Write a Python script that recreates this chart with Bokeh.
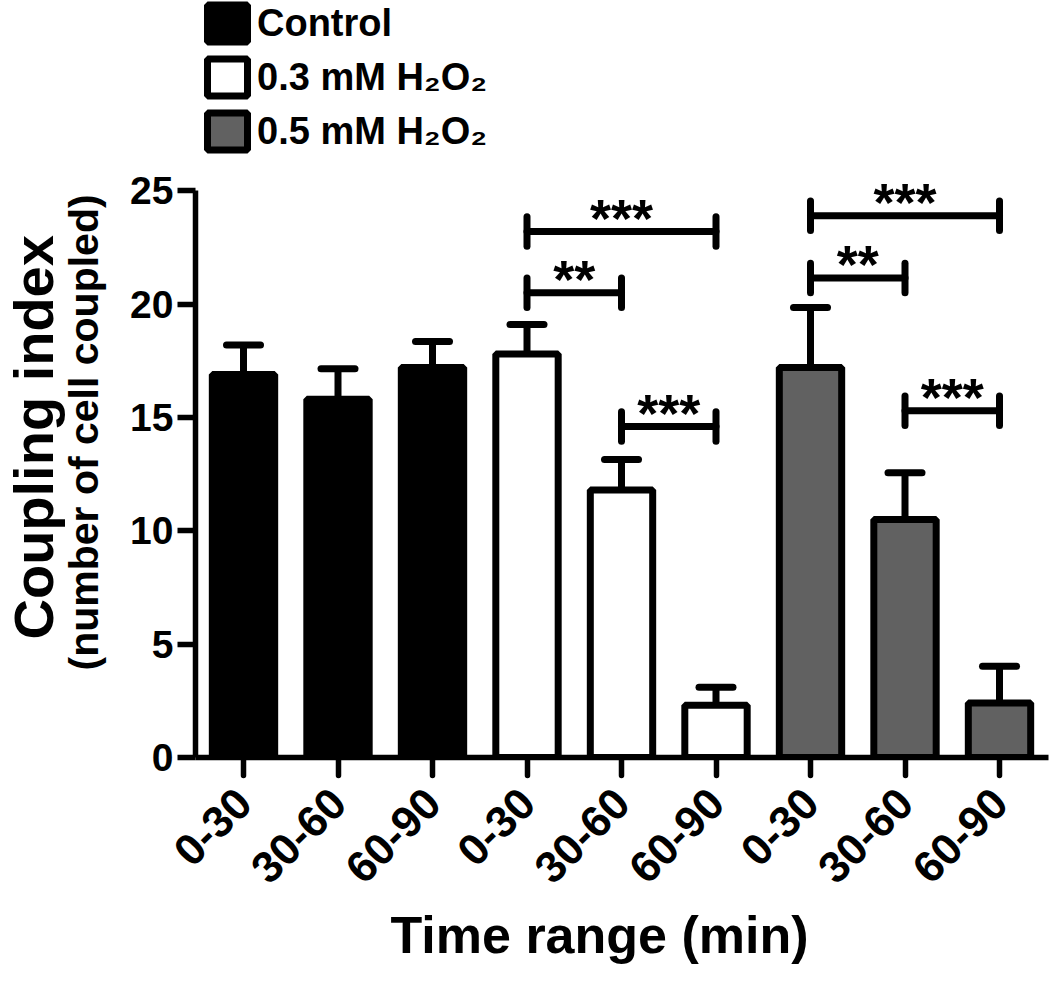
import math
from bokeh.plotting import figure
from bokeh.models import (ColumnDataSource, Range1d, FixedTicker, Whisker, TeeHead,
                          Legend, LegendItem, Title)
from bokeh.core.properties import value
from bokeh.embed import file_html
from bokeh.resources import INLINE

# ---------------- data ----------------
time_labels = ["0-30", "30-60", "60-90", "0-30", "30-60", "60-90", "0-30", "30-60", "60-90"]
groups = ["Control", "0.3 mM H\u2082O\u2082", "0.5 mM H\u2082O\u2082"]
control_mean = [16.9, 15.8, 17.2]
control_sem = [1.3, 1.35, 1.15]
h2o2_03_mean = [17.8, 11.8, 2.3]
h2o2_03_sem = [1.3, 1.35, 0.8]
h2o2_05_mean = [17.2, 10.5, 2.4]
h2o2_05_sem = [2.65, 2.06, 1.62]

sig_pairs = [(3, 5), (3, 4), (4, 5), (6, 8), (6, 7), (7, 8)]
sig_heights = [23.2, 20.5, 14.6, 23.9, 21.15, 15.3]
sig_labels = ["***", "**", "***", "***", "**", "***"]

colors = ["#000000", "#ffffff", "#616161"]

# ---------------- layout ----------------
FONT = "Liberation Sans"
LEFT = 195
FRAME_W, FRAME_H = 853, 757
PX_X = 94.5          # px per category
PX_Y = 22.67         # px per y unit
X0 = -48 / PX_X
X1 = X0 + FRAME_W / PX_X
Y1 = FRAME_H / PX_Y

p = figure(frame_width=FRAME_W, frame_height=FRAME_H,
           min_border_left=LEFT, min_border_right=2, min_border_top=0, min_border_bottom=224,
           x_range=Range1d(X0, X1), y_range=Range1d(0, Y1),
           output_backend="svg", toolbar_location=None)
p.outline_line_color = None
p.xgrid.visible = False
p.ygrid.visible = False
p.background_fill_color = "white"
p.border_fill_color = "white"

means_all = [control_mean, h2o2_03_mean, h2o2_05_mean]
sems_all = [control_sem, h2o2_03_sem, h2o2_05_sem]
bar_w = 0.66
renderers = []
for g, (name, means, sems, col) in enumerate(zip(groups, means_all, sems_all, colors)):
    xs = [g * 3 + k for k in range(3)]
    src = ColumnDataSource(dict(x=xs, top=means,
                                upper=[m + s for m, s in zip(means, sems)],
                                lower=means))
    wh = Whisker(source=src, base="x", upper="upper", lower="lower", dimension="height",
                 line_width=7, line_color="black",
                 upper_head=TeeHead(size=34, line_width=7, line_color="black", line_cap="round"),
                 lower_head=None)
    p.add_layout(wh)
    r = p.vbar(x="x", top="top", bottom=0, width=bar_w, source=src,
               fill_color=col, line_color="black", line_width=7)
    renderers.append(r)

# significance brackets
tick_half = 0.65
hx0, hx1, hy = [], [], []
vx, vy0, vy1 = [], [], []
tx, ty = [], []
for (i, j), h in zip(sig_pairs, sig_heights):
    hx0.append(i); hx1.append(j); hy.append(h)
    for k in (i, j):
        vx.append(k); vy0.append(h - tick_half); vy1.append(h + tick_half)
    tx.append((i + j) / 2)
    ty.append(h + 14 / PX_Y)
p.segment(x0=hx0, y0=hy, x1=hx1, y1=hy, line_width=7, line_color="black", line_cap="round")
p.segment(x0=vx, y0=vy0, x1=vx, y1=vy1, line_width=7, line_color="black", line_cap="round")
p.text(x=tx, y=ty, text=sig_labels, text_font=value(FONT), text_font_style="bold",
       text_font_size="54px", text_align="center", text_baseline="alphabetic", text_color="black")

# ---------------- axes ----------------
xa = p.xaxis[0]
xa.ticker = FixedTicker(ticks=list(range(len(time_labels))))
xa.major_label_overrides = {i: t for i, t in enumerate(time_labels)}
xa.major_label_orientation = math.pi / 4
xa.minor_tick_line_color = None
xa.major_tick_in = 0
xa.major_tick_out = 18
xa.major_tick_line_width = 5.5
xa.major_tick_line_cap = "round"
xa.axis_line_width = 5.5
xa.major_label_text_font = FONT
xa.major_label_text_font_style = "bold"
xa.major_label_text_font_size = "44px"
xa.major_label_text_color = "black"
xa.major_label_standoff = 20

ya = p.yaxis[0]
ya.bounds = (0, 25)
ya.ticker = FixedTicker(ticks=[0, 5, 10, 15, 20, 25])
ya.minor_tick_line_color = None
ya.major_tick_in = 0
ya.major_tick_out = 18
ya.major_tick_line_width = 5.5
ya.axis_line_width = 5.5
ya.major_label_text_font = FONT
ya.major_label_text_font_style = "bold"
ya.major_label_text_font_size = "39px"
ya.major_label_text_color = "black"
ya.major_label_standoff = 4

# axis titles (placed as side titles so they can be positioned like the original)
p.add_layout(Title(text="(number of cell coupled)", align="left", offset=87,
                   vertical_align="bottom", standoff=42, text_font=FONT,
                   text_font_style="bold", text_font_size="41px", text_color="black"), "left")
p.add_layout(Title(text="Coupling index", align="left", offset=118,
                   vertical_align="bottom", standoff=-54, text_font=FONT,
                   text_font_style="bold", text_font_size="56px", text_color="black"), "left")
p.add_layout(Title(text="Time range (min)", align="left", offset=390 - LEFT,
                   vertical_align="bottom", standoff=9, text_font=FONT,
                   text_font_style="bold", text_font_size="52px", text_color="black"), "below")

# ---------------- legend ----------------
glyph_h = 46
spacing = 8
leg_h = 3 * glyph_h + 2 * spacing
legend = Legend(items=[LegendItem(label=g, renderers=[r]) for g, r in zip(groups, renderers)],
                location=(7, FRAME_H - leg_h), padding=0, margin=0, spacing=spacing,
                glyph_width=50, glyph_height=glyph_h, label_height=glyph_h,
                label_standoff=5, label_text_font=FONT, label_text_font_style="bold",
                label_text_font_size="38px", label_text_color="black",
                border_line_color=None, background_fill_alpha=0)
p.add_layout(legend)

open("out.html", "w").write(file_html(p, INLINE))
